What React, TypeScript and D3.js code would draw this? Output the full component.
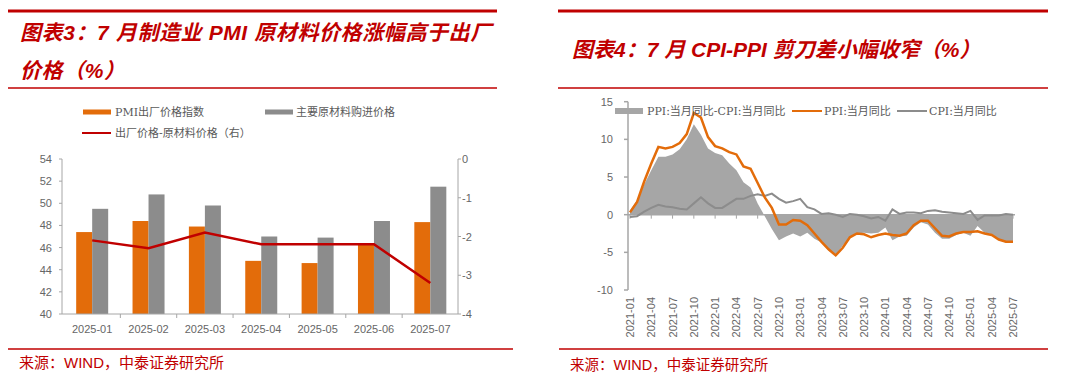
import React from "react";
import * as d3 from "d3";

// ---------- Left chart data ----------
const leftCategories = ["2025-01", "2025-02", "2025-03", "2025-04", "2025-05", "2025-06", "2025-07"];
const pmiOutput = [47.4, 48.4, 47.9, 44.8, 44.6, 46.3, 48.3];
const pmiInput = [49.5, 50.8, 49.8, 47.0, 46.9, 48.4, 51.5];
const pmiDiff = [-2.1, -2.3, -1.9, -2.2, -2.2, -2.2, -3.2];
const leftTicks = [40, 42, 44, 46, 48, 50, 52, 54];
const rightTicks = [-4, -3, -2, -1, 0];

// ---------- Right chart data (2021-01 .. 2025-07) ----------
const ppiYoY = [
  0.3, 1.7, 4.4, 6.8, 9.0, 8.8, 9.0, 9.5, 10.7, 13.5, 12.9, 10.3,
  9.1, 8.8, 8.3, 8.0, 6.4, 6.1, 4.2, 2.3, 0.9, -1.3, -1.3, -0.7,
  -0.8, -1.4, -2.5, -3.6, -4.6, -5.4, -4.4, -3.0, -2.5, -2.6, -3.0, -2.7,
  -2.5, -2.7, -2.8, -2.5, -1.4, -0.8, -0.8, -1.8, -2.8, -2.9, -2.5, -2.3,
  -2.3, -2.2, -2.5, -2.7, -3.3, -3.6, -3.6,
];
const cpiYoY = [
  -0.3, -0.2, 0.4, 0.9, 1.3, 1.1, 1.0, 0.8, 0.7, 1.5, 2.3, 1.5,
  0.9, 0.9, 1.5, 2.1, 2.1, 2.5, 2.7, 2.5, 2.8, 2.1, 1.6, 1.8,
  2.1, 1.0, 0.7, 0.1, 0.2, 0.0, -0.3, 0.1, 0.0, -0.2, -0.5, -0.3,
  -0.8, 0.7, 0.1, 0.3, 0.3, 0.2, 0.5, 0.6, 0.4, 0.3, 0.2, 0.1,
  0.5, -0.7, -0.1, -0.1, -0.1, 0.1, 0.0,
];
const rightYTicks = [-10, -5, 0, 5, 10, 15];
const startYear = 2021;
const months: string[] = ppiYoY.map((_, i) => {
  const y = startYear + Math.floor(i / 12);
  const m = (i % 12) + 1;
  return `${y}-${m < 10 ? "0" + m : m}`;
});

const RED = "#c00000";
const ORANGE = "#e36c0a";
const GRAY_BAR = "#8c8c8c";
const AREA = "#a6a6a6";
const CPI_COLOR = "#8c8c8c";
const AXIS = "#a6a6a6";
const TXT = "#666666";
const SANS = "Arial, 'Liberation Sans', 'Noto Sans CJK SC', sans-serif";
const SERIF = "'DejaVu Serif', 'Liberation Serif', 'Noto Sans CJK SC', serif";
const TITLE_FONT = "Arial, 'Liberation Sans', 'Noto Sans CJK SC', sans-serif";

function LeftChart() {
  const x = d3.scaleBand<string>().domain(leftCategories).range([64, 458.5]).padding(0);
  const y = d3.scaleLinear().domain([40, 54]).range([314, 159]);
  const y2 = d3.scaleLinear().domain([-4, 0]).range([314, 159]);
  const bw = x.bandwidth();
  const barW = 16;
  const line = d3
    .line<number>()
    .x((_, i) => (x(leftCategories[i]) as number) + bw / 2)
    .y((d) => y2(d));
  return (
    <g>
      <line x1={8} x2={497} y1={11} y2={11} stroke={RED} strokeWidth={3} />
      <text x={20} y={40} fill={RED} fontFamily={TITLE_FONT} fontWeight="bold" fontStyle="italic" fontSize={21} letterSpacing={0.6}>
        图表3：7 月制造业 PMI 原材料价格涨幅高于出厂
      </text>
      <text x={20} y={78} fill={RED} fontFamily={TITLE_FONT} fontWeight="bold" fontStyle="italic" fontSize={21} letterSpacing={0.6}>
        价格（%）
      </text>
      <line x1={8} x2={497} y1={88} y2={88} stroke={RED} strokeWidth={1.5} />

      {/* legend */}
      <rect x={83} y={109.5} width={28} height={5} fill={ORANGE} />
      <text x={115} y={116} fontFamily={SERIF} fontSize={11} fill="#595959">PMI出厂价格指数</text>
      <rect x={265} y={109.5} width={28} height={5} fill={GRAY_BAR} />
      <text x={296} y={116} fontFamily={SERIF} fontSize={11} fill="#595959">主要原材料购进价格</text>
      <line x1={82} x2={111} y1={133} y2={133} stroke={RED} strokeWidth={2} />
      <text x={115} y={137} fontFamily={SERIF} fontSize={11} fill="#595959">出厂价格-原材料价格（右）</text>

      {/* bars */}
      {leftCategories.map((c, i) => {
        const cx = (x(c) as number) + bw / 2;
        return (
          <g key={c}>
            <rect x={cx - barW} y={y(pmiOutput[i])} width={barW} height={314 - y(pmiOutput[i])} fill={ORANGE} />
            <rect x={cx} y={y(pmiInput[i])} width={barW} height={314 - y(pmiInput[i])} fill={GRAY_BAR} />
          </g>
        );
      })}

      {/* axes */}
      <line x1={62} x2={62} y1={159} y2={314} stroke={AXIS} strokeWidth={1} />
      {leftTicks.map((t) => (
        <g key={t}>
          <line x1={59} x2={62} y1={y(t)} y2={y(t)} stroke={AXIS} />
          <text x={52} y={y(t) + 4} textAnchor="end" fontFamily={SANS} fontSize={11} fill={TXT}>{t}</text>
        </g>
      ))}
      <line x1={458} x2={458} y1={159} y2={314} stroke={AXIS} strokeWidth={1} />
      {rightTicks.map((t) => (
        <g key={t}>
          <line x1={458} x2={461} y1={y2(t)} y2={y2(t)} stroke={AXIS} />
          <text x={462} y={y2(t) + 4} textAnchor="start" fontFamily={SANS} fontSize={11} fill={TXT}>{t}</text>
        </g>
      ))}
      <line x1={62} x2={458} y1={314} y2={314} stroke={AXIS} strokeWidth={1} />
      {leftCategories.map((c, i) => (
        <g key={c}>
          {i > 0 && <line x1={x(c) as number} x2={x(c) as number} y1={314} y2={318} stroke={AXIS} />}
          <text x={(x(c) as number) + bw / 2} y={333} textAnchor="middle" fontFamily={SANS} fontSize={11} fill={TXT}>{c}</text>
        </g>
      ))}

      <path d={line(pmiDiff) || ""} fill="none" stroke={RED} strokeWidth={2.5} />

      <line x1={8} x2={513} y1={349} y2={349} stroke={RED} strokeWidth={1.5} />
      <text x={19} y={368} fontFamily={SANS} fontSize={15} fill={RED}>来源：WIND，中泰证券研究所</text>
    </g>
  );
}

function RightChart() {
  const x = d3.scaleLinear().domain([0, months.length - 1]).range([630, 1013]);
  const y = d3.scaleLinear().domain([-10, 15]).range([290, 101.7]);
  const diff = ppiYoY.map((p, i) => +(p - cpiYoY[i]).toFixed(2));
  const area = d3
    .area<number>()
    .x((_, i) => x(i))
    .y0(y(0))
    .y1((d) => y(d));
  const line = d3
    .line<number>()
    .x((_, i) => x(i))
    .y((d) => y(d));
  return (
    <g>
      <line x1={558} x2={1048} y1={11} y2={11} stroke={RED} strokeWidth={3} />
      <text x={572} y={57} fill={RED} fontFamily={TITLE_FONT} fontWeight="bold" fontStyle="italic" fontSize={21}>
        图表4：7 月 CPI-PPI 剪刀差小幅收窄（%）
      </text>
      <line x1={558} x2={1048} y1={88} y2={88} stroke={RED} strokeWidth={1.5} />

      <path d={area(diff) || ""} fill={AREA} />

      {/* y axis */}
      <line x1={628} x2={628} y1={y(15)} y2={y(-10)} stroke={AXIS} strokeWidth={1.5} />
      {rightYTicks.map((t) => (
        <g key={t}>
          <line x1={624} x2={628} y1={y(t)} y2={y(t)} stroke={AXIS} strokeWidth={1.5} />
          <text x={613} y={y(t) + 4} textAnchor="end" fontFamily={SANS} fontSize={11} fill={TXT}>{t}</text>
        </g>
      ))}
      {/* x axis at zero */}
      <line x1={628} x2={1015} y1={y(0)} y2={y(0)} stroke={AXIS} strokeWidth={1.5} />
      {months.map((m, i) =>
        i % 3 === 0 ? (
          <g key={m}>
            <line x1={x(i)} x2={x(i)} y1={y(0)} y2={y(0) + 4} stroke={AXIS} strokeWidth={1} />
            <text
              transform={`translate(${x(i) + 4},297) rotate(-90)`}
              textAnchor="end"
              fontFamily={SANS}
              fontSize={11}
              fill={TXT}
            >
              {m}
            </text>
          </g>
        ) : null
      )}

      <path d={line(cpiYoY) || ""} fill="none" stroke={CPI_COLOR} strokeWidth={2} />
      <path d={line(ppiYoY) || ""} fill="none" stroke={ORANGE} strokeWidth={2.5} />

      {/* legend */}
      <rect x={615} y={108} width={28} height={6} fill={AREA} />
      <text x={647} y={115} fontFamily={SERIF} fontSize={11} fill="#595959">PPI:当月同比-CPI:当月同比</text>
      <line x1={792} x2={822} y1={111} y2={111} stroke={ORANGE} strokeWidth={2} />
      <text x={824} y={115} fontFamily={SERIF} fontSize={11} fill="#595959">PPI:当月同比</text>
      <line x1={897} x2={927} y1={111} y2={111} stroke={CPI_COLOR} strokeWidth={2} />
      <text x={929} y={115} fontFamily={SERIF} fontSize={11} fill="#595959">CPI:当月同比</text>

      <line x1={559} x2={1048} y1={349} y2={349} stroke={RED} strokeWidth={1.5} />
      <text x={570} y={370} fontFamily={SANS} fontSize={14.5} fill={RED}>来源：WIND，中泰证券研究所</text>
    </g>
  );
}

export default function App() {
  return (
    <svg
      width={1080}
      height={391}
      style={{ position: "absolute", left: 0, top: 0, background: "#ffffff" }}
      xmlns="http://www.w3.org/2000/svg"
    >
      <rect width={1080} height={391} fill="#ffffff" />
      <LeftChart />
      <RightChart />
    </svg>
  );
}
